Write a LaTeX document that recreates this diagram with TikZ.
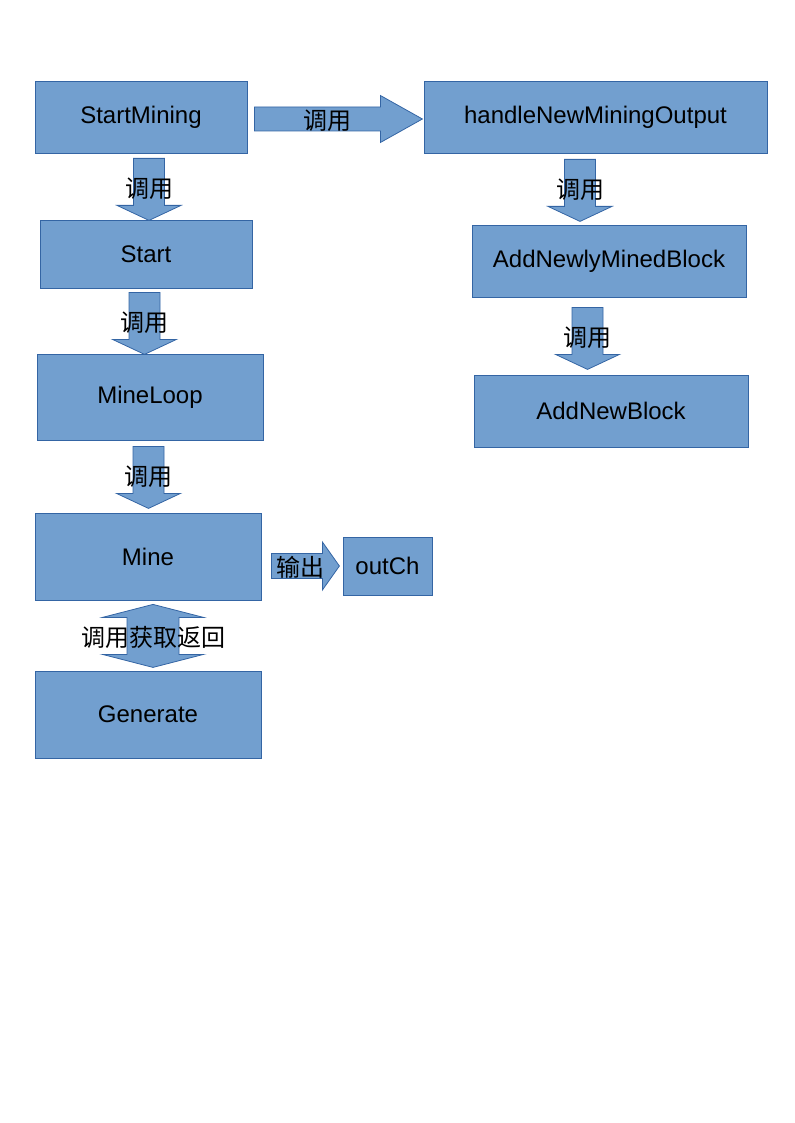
\documentclass[tikz,border=0pt]{standalone}
\usepackage{fontspec}
\setmainfont{Liberation Sans}
\newfontfamily\cjk{Noto Sans CJK SC}
\usetikzlibrary{calc}
\definecolor{boxfill}{HTML}{729FCF}
\definecolor{boxline}{HTML}{3465A4}

% block arrow pointing down, 62 units long: #1 tail point
\newcommand{\downblock}[1]{%
  \draw[blockarrow] ($(#1)+(-15.5,0)$) -- ++(31,0) -- ++(0,47) -- ++(16.5,0)
    -- ++(-32,15) -- ++(-32,-15) -- ++(16.5,0) -- cycle;}
% block arrow pointing right: #1 tail, #2 shaft, #3 head, #4 half shaft, #5 half head
\newcommand{\rightblock}[5]{%
  \draw[blockarrow] ($(#1)+(0,-#4)$) -- ++(#2,0) -- ++(0,{-(#5-#4)}) -- ++(#3,#5)
    -- ++(-#3,#5) -- ++(0,{-(#5-#4)}) -- ++(-#2,0) -- cycle;}

\begin{document}
\begin{tikzpicture}[x=0.75pt,y=-0.75pt,
      box/.style={draw=boxline,fill=boxfill,line width=0.6pt,inner sep=0pt,
        font=\fontsize{18}{21}\selectfont},
      blockarrow/.style={draw=boxline,fill=boxfill,line width=0.6pt,line join=miter},
      lbl/.style={inner sep=0pt,font=\cjk\fontsize{18}{21}\selectfont}]
    % page, in pixels, y pointing down
    \useasboundingbox (0,0) rectangle (794,1123);

    % left column
    \node[box,minimum width=159pt,minimum height=54pt]    (StartMining) at (141,117)   {StartMining};
    \node[box,minimum width=159pt,minimum height=51pt]    (Start)       at (146,254)   {Start};
    \node[box,minimum width=169.5pt,minimum height=64.5pt] (MineLoop)   at (150,397)   {MineLoop};
    \node[box,minimum width=169.5pt,minimum height=65.25pt] (Mine)      at (148,556.5) {Mine};
    \node[box,minimum width=169.5pt,minimum height=65.25pt] (Generate)  at (148,714.5) {Generate};
    \node[box,minimum width=66.75pt,minimum height=43.5pt] (outCh)      at (387.5,566) {outCh};

    % right column
    \node[box,minimum width=257.25pt,minimum height=54pt] (handleOutput) at (595.5,117) {handleNewMiningOutput};
    \node[box,minimum width=205.5pt,minimum height=54pt]  (AddNewly)     at (609,261)   {AddNewlyMinedBlock};
    \node[box,minimum width=205.5pt,minimum height=54pt]  (AddNewBlock)  at (611,411)   {AddNewBlock};

    % arrow tails, taken from the boxes they leave
    \coordinate (sm-right) at ($(StartMining.east)+(7,2)$);
    \coordinate (sm-down)  at ($(StartMining.south)+(8,5)$);
    \coordinate (st-down)  at ($(Start.south)+(-1.5,4)$);
    \coordinate (ml-down)  at ($(MineLoop.south)+(-1.5,6)$);
    \coordinate (ho-down)  at ($(handleOutput.south)+(-15.5,6)$);
    \coordinate (an-down)  at ($(AddNewly.south)+(-21.5,10)$);
    \coordinate (mi-right) at ($(Mine.east)+(10,9.5)$);
    \coordinate (mi-both)  at ($(Mine.south)+(5,4)$);

    % calls
    \rightblock{sm-right}{126}{42}{12}{23.5}
    \node[lbl] (call1) at ($(sm-right)+(73,2)$) {调用};
    \foreach \t/\n in {sm-down/call2,st-down/call3,ml-down/call4,ho-down/call5,an-down/call6} {
      \downblock{\t}
      \node[lbl] (\n) at ($(\t)+(0,30)$) {调用};
    }

    % output to channel
    \rightblock{mi-right}{51}{17}{12.5}{24}
    \node[lbl] (output) at ($(mi-right)+(29,1)$) {输出};

    % call and return, both ways
    \draw[blockarrow] (mi-both) -- ++(50.5,13) -- ++(-24.5,0) -- ++(0,37) -- ++(24.5,0)
      -- ++(-50.5,13) -- ++(-50.5,-13) -- ++(24.5,0) -- ++(0,-37) -- ++(-24.5,0) -- cycle;
    \node[lbl] (callback) at ($(mi-both)+(0,33)$) {调用获取返回};
  \end{tikzpicture}
\end{document}
